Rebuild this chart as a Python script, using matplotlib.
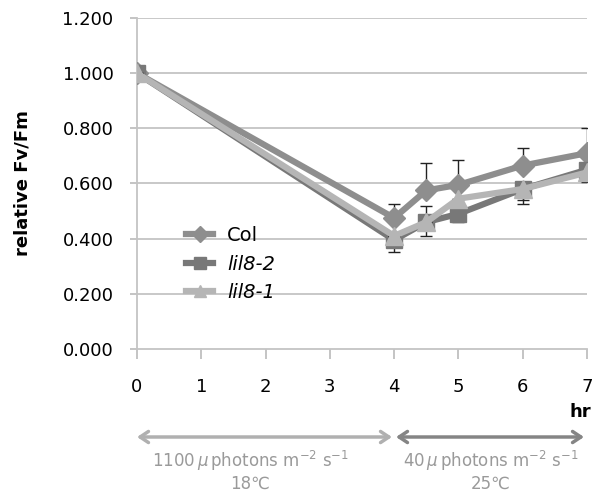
import matplotlib
matplotlib.use("Agg")
import matplotlib.pyplot as plt
import numpy as np

# Time points (hours) and relative Fv/Fm per genotype
hours = [0, 4, 4.5, 5, 6, 7]
col_vals = [1.000, 0.475, 0.575, 0.595, 0.665, 0.710]
lil82_vals = [1.000, 0.395, 0.460, 0.490, 0.580, 0.650]
lil81_vals = [1.000, 0.410, 0.460, 0.545, 0.580, 0.640]

# Error bar extents (lower, upper)
col_err_lo = [0, 0, 0, 0, 0, 0]
col_err_hi = [0, 0.050, 0.100, 0.090, 0.065, 0.090]
lil82_err_lo = [0, 0.045, 0.050, 0.030, 0.055, 0.045]
lil82_err_hi = [0, 0, 0, 0, 0, 0]
lil81_err_lo = [0, 0, 0, 0, 0.040, 0]
lil81_err_hi = [0, 0, 0.060, 0, 0, 0]

y_ticks = [0.0, 0.2, 0.4, 0.6, 0.8, 1.0, 1.2]
x_ticks = [0, 1, 2, 3, 4, 5, 6, 7]

series = [
    ("Col", col_vals, col_err_lo, col_err_hi, "#8e8e8e", "D", 11, "normal"),
    ("lil8-2", lil82_vals, lil82_err_lo, lil82_err_hi, "#787878", "s", 12, "italic"),
    ("lil8-1", lil81_vals, lil81_err_lo, lil81_err_hi, "#b5b5b5", "^", 13, "italic"),
]

plt.rcParams["font.family"] = ["DejaVu Sans"]

fig = plt.figure(figsize=(5.99, 4.93), dpi=100)
W, H = 599, 493
ax = fig.add_axes([137 / W, 1 - 349 / H, (587 - 137) / W, (349 - 18) / H])

grid_c = "#c4c4c4"
for y in y_ticks[1:]:
    ax.axhline(y, color=grid_c, lw=1.3, zorder=0)

handles = []
for z, (name, vals, lo, hi, c, m, ms, style) in enumerate(series):
    ax.errorbar(hours, vals, yerr=[lo, hi], fmt="none", ecolor="#222222",
                elinewidth=1.0, capsize=4, capthick=1.0, zorder=2 + z * 2)
    h, = ax.plot(hours, vals, color=c, lw=4.5, marker=m, ms=ms, mec=c, mfc=c,
                 zorder=3 + z * 2, solid_joinstyle="miter")
    handles.append(h)

ax.set_xlim(0, 7)
ax.set_ylim(0, 1.2)
ax.set_xticks(x_ticks)
ax.set_yticks(y_ticks)
ax.set_yticklabels([f"{v:.3f}" for v in y_ticks])
ax.tick_params(axis="both", labelsize=13, colors="#bfbfbf", labelcolor="black",
               width=1.3)
ax.tick_params(axis="x", length=7, pad=14)
ax.tick_params(axis="y", length=5, pad=12)

for s in ["top", "right"]:
    ax.spines[s].set_visible(False)
for s in ["left", "bottom"]:
    ax.spines[s].set_color(grid_c)
    ax.spines[s].set_linewidth(1.3)

ax.set_ylabel("relative Fv/Fm", fontsize=13, fontweight="bold", labelpad=22)

leg = ax.legend(handles, [s[0] for s in series], loc="upper left",
                bbox_to_anchor=(0.07, 0.425), frameon=False, fontsize=14,
                handlelength=1.4, handletextpad=0.7, labelspacing=0.5,
                markerscale=0.7)
for t, s in zip(leg.get_texts(), series):
    t.set_fontstyle(s[7])

# Unit label on the x axis
fig.text(591 / W, 1 - 412 / H, "hr", fontsize=13, fontweight="bold",
         ha="right", va="center")

# Treatment period arrows
y_arrow = 1 - 437 / H
fig.add_artist(matplotlib.patches.FancyArrowPatch(
    (137 / W, y_arrow), (392 / W, y_arrow), transform=fig.transFigure,
    arrowstyle="<->,head_length=6,head_width=4", color="#b0b0b0", lw=2.5,
    mutation_scale=1, shrinkA=0, shrinkB=0))
fig.add_artist(matplotlib.patches.FancyArrowPatch(
    (396 / W, y_arrow), (584 / W, y_arrow), transform=fig.transFigure,
    arrowstyle="<->,head_length=6,head_width=4", color="#858585", lw=2.5,
    mutation_scale=1, shrinkA=0, shrinkB=0))

txt_c = "#9a9a9a"
fig.text(250 / W, 1 - 461 / H, r"1100$\,\mu\,$photons m$^{-2}$ s$^{-1}$",
         fontsize=12, color=txt_c, ha="center", va="center")
fig.text(250 / W, 1 - 484 / H, "18℃", fontsize=12, color=txt_c,
         ha="center", va="center")
fig.text(491 / W, 1 - 461 / H, r"40$\,\mu\,$photons m$^{-2}$ s$^{-1}$",
         fontsize=12, color=txt_c, ha="center", va="center")
fig.text(491 / W, 1 - 484 / H, "25℃", fontsize=12, color=txt_c,
         ha="center", va="center")

fig.savefig("out.png", dpi=100)
